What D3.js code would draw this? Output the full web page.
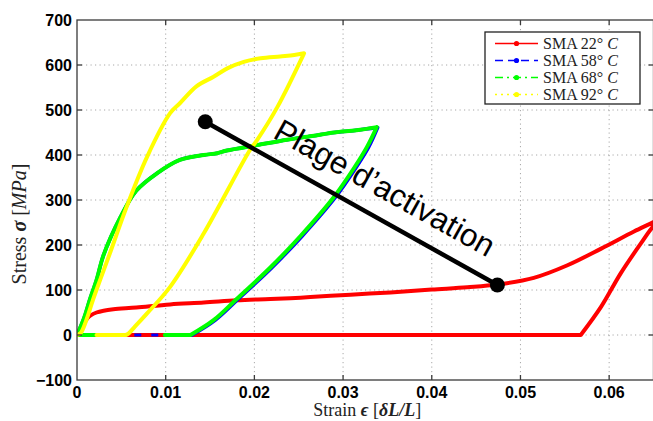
<!DOCTYPE html>
<html><head><meta charset="utf-8">
<script src="https://cdn.jsdelivr.net/npm/d3@7"></script>
<style>body{margin:0;background:#fff}svg{display:block}</style>
</head><body>
<svg id="c" width="653" height="421"></svg>
<script>
// ---- data ----
const xTicks = [0, 0.01, 0.02, 0.03, 0.04, 0.05, 0.06];
const yTicks = [-100, 0, 100, 200, 300, 400, 500, 600, 700];
const seriesNames = ["SMA 22°", "SMA 58°", "SMA 68°", "SMA 92°"];
const seriesColors = ["#ff0000", "#0000ff", "#00ff00", "#ffff00"];

const redStrain = [0, 0.0004, 0.0008, 0.0012, 0.0015, 0.0022, 0.0030, 0.0041, 0.0067, 0.0105, 0.0143, 0.0180, 0.0218, 0.0252, 0.0286, 0.0330, 0.0365, 0.0400, 0.0440, 0.0474, 0.0515, 0.0553, 0.0591, 0.0628, 0.0651, 0.0668,
  0.0651, 0.0636, 0.0613, 0.0591, 0.0568, 0.0300, 0.0000];
const redStress = [0, 12, 26, 38, 43, 50, 54, 57, 61, 68, 72, 77, 80, 83, 87, 92, 96, 101, 106, 112, 127, 155, 192, 230, 252, 270,
  244, 204, 137, 63, 0, 0, 0];

const blueStrain = [0, 0.0008, 0.0015, 0.0022, 0.0030, 0.0049, 0.0067, 0.0090, 0.0116, 0.0143, 0.0158, 0.0169, 0.0203, 0.0237, 0.0265, 0.0290, 0.0315, 0.0339,
  0.0329, 0.0314, 0.0291, 0.0254, 0.0220, 0.0182, 0.0156, 0.0130, 0.0022];
const blueStress = [0, 38, 82, 122, 178, 262, 321, 359, 389, 400, 404, 410, 422, 434, 442, 450, 455, 461,
  418, 370, 305, 220, 150, 80, 33, 0, 0];

const greenStrain = [0.0022, 0, 0.0008, 0.0015, 0.0022, 0.0030, 0.0049, 0.0067, 0.0090, 0.0116, 0.0143, 0.0158, 0.0169, 0.0203, 0.0237, 0.0265, 0.0290, 0.0315, 0.0338,
  0.0327, 0.0312, 0.0289, 0.0252, 0.0218, 0.0180, 0.0154, 0.0128, 0.0099];
const greenStress = [0, 0, 38, 82, 122, 178, 262, 321, 359, 389, 400, 404, 410, 422, 434, 442, 450, 455, 462,
  418, 370, 305, 220, 150, 80, 33, 0, 0];

const yellowStrain = [0, 0.0004, 0.0010, 0.0018, 0.0026, 0.0037, 0.0056, 0.0079, 0.0105, 0.0116, 0.0135, 0.0154, 0.0170, 0.0188, 0.0207, 0.0229, 0.0245, 0.0256,
  0.0226, 0.0203, 0.0195, 0.0143, 0.0105, 0.0079, 0.0065, 0.0058, 0.0055, 0.0022];
const yellowStress = [0, 4, 30, 78, 122, 181, 285, 396, 493, 515, 553, 574, 593, 607, 615, 619, 622, 626,
  507, 433, 411, 226, 107, 48, 18, 3, 0, 0];

const annotStrain = [0.01446, 0.0474];
const annotStress = [474, 111];
const annotText = "Plage d’activation";

// ---- layout ----
const svg = d3.select("#c");
const L = 77, R = 653.5, T = 20, B = 380;
const x = d3.scaleLinear().domain([0, 0.065]).range([L, R]);
const y = d3.scaleLinear().domain([-100, 700]).range([B, T]);

svg.append("defs").append("clipPath").attr("id", "clip")
  .append("rect").attr("x", L).attr("y", T).attr("width", R - L).attr("height", B - T);

// grid
const grid = svg.append("g").attr("stroke", "#a8a8a8").attr("stroke-width", 1).attr("stroke-dasharray", "1.2,3.3");
xTicks.slice(1).forEach(v => grid.append("line").attr("x1", x(v)).attr("x2", x(v)).attr("y1", T).attr("y2", B));
yTicks.slice(1, -1).forEach(v => grid.append("line").attr("y1", y(v)).attr("y2", y(v)).attr("x1", L).attr("x2", R));

// curves: split each polyline at its corners, smooth each piece
const zip = (a, b) => a.map((v, i) => [v, b[i]]);
const sgn = v => (Math.abs(v) < 1e-12 ? 0 : Math.sign(v));
function pieces(pts) {
  const out = []; let cur = [pts[0]];
  for (let i = 1; i < pts.length; i++) {
    cur.push(pts[i]);
    if (i < pts.length - 1) {
      const dx1 = sgn(pts[i][0] - pts[i - 1][0]), dx2 = sgn(pts[i + 1][0] - pts[i][0]);
      const dy1 = sgn(pts[i][1] - pts[i - 1][1]), dy2 = sgn(pts[i + 1][1] - pts[i][1]);
      if (dx1 !== dx2 || dy1 !== dy2) { out.push(cur); cur = [pts[i]]; }
    }
  }
  out.push(cur);
  return out;
}
const line = d3.line().x(d => x(d[0])).y(d => y(d[1])).curve(d3.curveCatmullRom.alpha(0.5));
const smoothPath = pts => pieces(pts).map(p => line(p)).join("");
const plot = svg.append("g").attr("clip-path", "url(#clip)").attr("fill", "none")
  .attr("stroke-linejoin", "round").attr("stroke-linecap", "round");
const red = zip(redStrain, redStress), blue = zip(blueStrain, blueStress),
  green = zip(greenStrain, greenStress), yellow = zip(yellowStrain, yellowStress);
plot.append("path").attr("d", smoothPath(red)).attr("stroke", seriesColors[0]).attr("stroke-width", 4);
plot.append("path").attr("d", smoothPath(blue.slice(0, blue.length - 1))).attr("stroke", seriesColors[1]).attr("stroke-width", 3.5);
plot.append("path").attr("d", smoothPath(blue.slice(blue.length - 2))).attr("stroke", seriesColors[1]).attr("stroke-width", 3)
  .attr("stroke-dasharray", "7,10").attr("stroke-linecap", "butt");
plot.append("path").attr("d", smoothPath(green)).attr("stroke", seriesColors[2]).attr("stroke-width", 4);
plot.append("path").attr("d", smoothPath(yellow)).attr("stroke", seriesColors[3]).attr("stroke-width", 4);

// frame & ticks
const ax = svg.append("g").attr("stroke", "#3a3a3a").attr("stroke-width", 1.3).attr("fill", "none");
ax.append("rect").attr("x", L).attr("y", T).attr("width", R - L).attr("height", B - T);
xTicks.slice(1).forEach(v => {
  ax.append("line").attr("x1", x(v)).attr("x2", x(v)).attr("y1", B).attr("y2", B - 5);
  ax.append("line").attr("x1", x(v)).attr("x2", x(v)).attr("y1", T).attr("y2", T + 5);
});
yTicks.slice(1, -1).forEach(v => {
  ax.append("line").attr("y1", y(v)).attr("y2", y(v)).attr("x1", L).attr("x2", L + 5);
  ax.append("line").attr("y1", y(v)).attr("y2", y(v)).attr("x1", R).attr("x2", R - 5);
});

// tick labels
const tl = svg.append("g").attr("font-family", "'Liberation Sans', Arial, sans-serif").attr("font-weight", "bold").attr("font-size", 16).attr("fill", "#000");
xTicks.forEach(v => tl.append("text").attr("x", x(v)).attr("y", 398).attr("text-anchor", "middle").text(v === 0 ? "0" : d3.format(".2f")(v)));
yTicks.forEach(v => tl.append("text").attr("x", 72).attr("y", y(v) + 5.5).attr("text-anchor", "end").text(v < 0 ? "−" + Math.abs(v) : String(v)));

// axis labels
const serif = "'Liberation Serif', 'Times New Roman', serif";
const xl = svg.append("text").attr("x", (L + R) / 2 + 2).attr("y", 416).attr("text-anchor", "middle")
  .attr("font-family", serif).attr("font-size", 18).attr("fill", "#222");
xl.append("tspan").text("Strain ");
xl.append("tspan").attr("font-style", "italic").attr("font-weight", "bold").text("ϵ");
xl.append("tspan").text(" [");
xl.append("tspan").attr("font-style", "italic").attr("font-weight", "bold").text("δL/L");
xl.append("tspan").text("]");

const yl = svg.append("text").attr("transform", `translate(26,224) rotate(-90)`).attr("text-anchor", "middle")
  .attr("font-family", serif).attr("font-size", 20).attr("fill", "#222");
yl.append("tspan").text("Stress ");
yl.append("tspan").attr("font-style", "italic").attr("font-weight", "bold").text("σ");
yl.append("tspan").text(" [");
yl.append("tspan").attr("font-style", "italic").text("MPa");
yl.append("tspan").text("]");

// legend
const lg = svg.append("g");
lg.append("rect").attr("x", 485).attr("y", 32).attr("width", 155).attr("height", 72).attr("fill", "#fff").attr("stroke", "#222").attr("stroke-width", 1.3);
const dashes = [null, "8,5", "8,4,2,4", "2,4"];
seriesNames.forEach((n, i) => {
  const cy = 43.5 + i * 17;
  lg.append("line").attr("x1", 495).attr("x2", 538).attr("y1", cy).attr("y2", cy)
    .attr("stroke", seriesColors[i]).attr("stroke-width", 1.5).attr("stroke-dasharray", dashes[i]);
  lg.append("circle").attr("cx", 516.5).attr("cy", cy).attr("r", 2.6).attr("fill", seriesColors[i]);
  const t = lg.append("text").attr("x", 543).attr("y", cy + 5.5).attr("font-family", serif).attr("font-size", 16).attr("fill", "#222");
  t.append("tspan").text(n + " ");
  t.append("tspan").attr("font-style", "italic").text("C");
});

// annotation
const ap = zip(annotStrain, annotStress).map(d => [x(d[0]), y(d[1])]);
svg.append("line").attr("x1", ap[0][0]).attr("y1", ap[0][1]).attr("x2", ap[1][0]).attr("y2", ap[1][1])
  .attr("stroke", "#000").attr("stroke-width", 4.5);
ap.forEach(p => svg.append("circle").attr("cx", p[0]).attr("cy", p[1]).attr("r", 7.5).attr("fill", "#000"));
const ang = Math.atan2(ap[1][1] - ap[0][1], ap[1][0] - ap[0][0]) * 180 / Math.PI;
const tpos = 0.565;
const tx = ap[0][0] + (ap[1][0] - ap[0][0]) * tpos, ty = ap[0][1] + (ap[1][1] - ap[0][1]) * tpos;
svg.append("text").attr("transform", `translate(${tx},${ty}) rotate(${ang})`).attr("y", -19)
  .attr("text-anchor", "middle").attr("font-family", "'Liberation Sans', Arial, sans-serif").attr("font-size", 31.5)
  .attr("fill", "#000").text(annotText);
</script>
</body></html>
